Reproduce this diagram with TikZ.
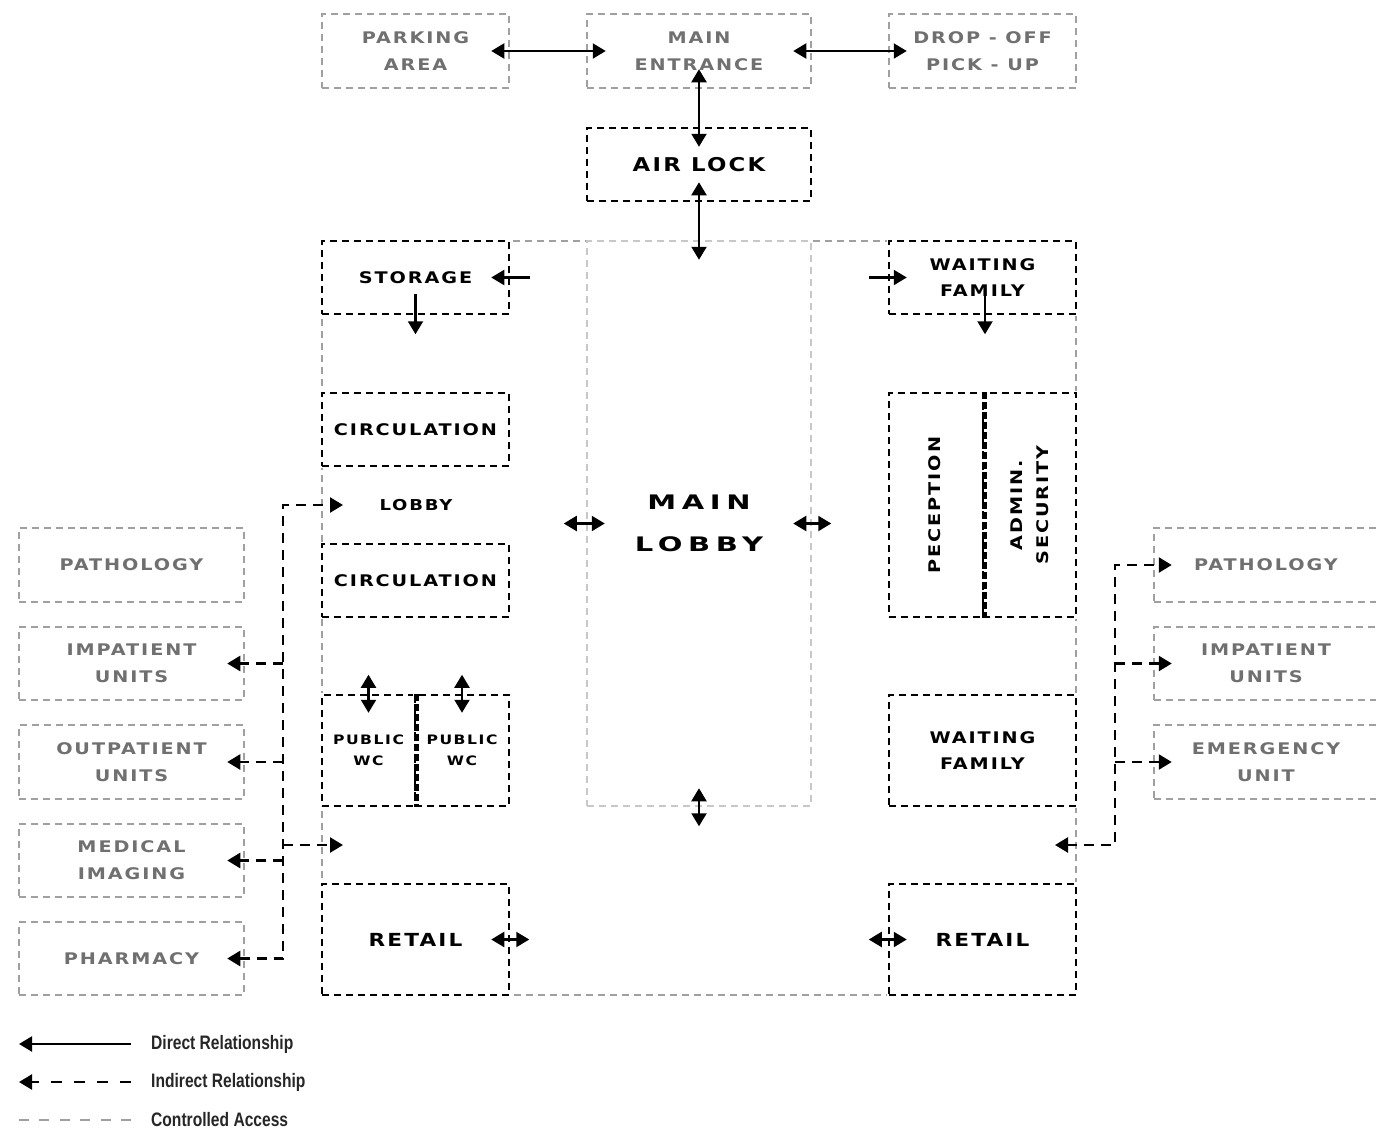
\documentclass[tikz,border=0pt]{standalone}
\usepackage{fontspec}
\usetikzlibrary{arrows.meta,calc}
% Wide, tracked capitals for the room labels; narrow bold for the key
\newfontfamily\lblfont[FakeStretch=1.2,LetterSpace=12]{DejaVu Sans Bold}
\newfontfamily\bigfont[FakeStretch=1.45,LetterSpace=28]{DejaVu Sans Bold}
\newfontfamily\legfont[FakeStretch=0.8]{Liberation Sans}
\definecolor{boxgray}{RGB}{160,160,160}
\definecolor{txtgray}{RGB}{112,112,112}
\definecolor{lobgray}{RGB}{200,200,200}
\tikzset{
  lbl/.style={font=\lblfont\fontsize{16}{27}\selectfont, align=center, inner sep=0pt},
  gbox/.style={lbl, draw=boxgray, line width=2.5pt, dash pattern=on 7pt off 5pt, text=txtgray},
  cbox/.style={lbl, preaction={draw=white, solid, line width=3.2pt},
               draw=black, line width=2.5pt, dash pattern=on 7pt off 5pt, text=black},
  abox/.style={draw=boxgray, line width=2.5pt, dash pattern=on 7pt off 5pt, inner sep=0pt},
  lbox/.style={draw=lobgray, line width=2.5pt, dash pattern=on 7pt off 5pt, inner sep=0pt,
               font=\bigfont\fontsize{20}{42}\selectfont, align=center},
  divider/.style={line width=4.5pt, dash pattern=on 7pt off 3pt},
  dir/.style={line width=2.2pt, arrows={-Triangle[length=13pt,width=15pt]}},
  dirtwo/.style={line width=2.2pt, arrows={Triangle[length=13pt,width=15pt]-Triangle[length=13pt,width=15pt]}},
  ind/.style={line width=2.5pt, dash pattern=on 10pt off 7pt, arrows={-Triangle[length=13pt,width=15pt]}},
  indtwo/.style={line width=2.5pt, dash pattern=on 10pt off 7pt,
                 arrows={Triangle[length=13pt,width=15pt]-Triangle[length=13pt,width=15pt]}},
  legtext/.style={font=\legfont\bfseries\fontsize{19.5}{22}\selectfont, text=black!85, inner sep=0pt, anchor=west},
}
\begin{document}
\begin{tikzpicture}[x=1pt, y=-1pt]
\useasboundingbox (0,0) rectangle (1376,1130);
\clip (0,0) rectangle (1376,1130);

% approach and entry
\node[gbox, minimum width=187pt, minimum height=74pt] (park) at (415.5,51) {PARKING\\AREA};
\node[gbox, minimum width=224pt, minimum height=74pt] (ment) at (699,51) {MAIN\\ENTRANCE};
\node[gbox, minimum width=187pt, minimum height=74pt] (drop) at (982.5,51) {DROP - OFF\\PICK - UP};
\node[cbox, minimum width=224pt, minimum height=73pt, font=\lblfont\fontsize{19}{24}\selectfont] (air) at (699,164.5) {AIR LOCK};

% controlled hall and central lobby
\node[abox, minimum width=754pt, minimum height=754pt] (hall) at (699,618) {};
\node[lbox, minimum width=224pt, minimum height=565pt] (lob) at (699,523.5) {MAIN\\LOBBY};

% west side rooms
\node[cbox, minimum width=187pt, minimum height=73pt] (stor) at (415.5,277.5) {STORAGE};
\node[cbox, minimum width=187pt, minimum height=73pt] (circa) at (415.5,429.5) {CIRCULATION};
\node[lbl, font=\lblfont\fontsize{15}{20}\selectfont] (sublob) at (416,505) {LOBBY};
\node[cbox, minimum width=187pt, minimum height=73pt] (circb) at (415.5,580.5) {CIRCULATION};
\node[cbox, minimum width=93pt, minimum height=111pt, font=\lblfont\fontsize{13}{21}\selectfont] (wca) at (368.5,750.5) {PUBLIC\\WC};
\node[cbox, minimum width=94pt, minimum height=111pt, font=\lblfont\fontsize{13}{21}\selectfont] (wcb) at (462,750.5) {PUBLIC\\WC};
\draw[divider] (wca.north east) -- (wca.south east);
\node[cbox, minimum width=187pt, minimum height=111pt, font=\lblfont\fontsize{18}{24}\selectfont] (retl) at (415.5,939.5) {RETAIL};

% east side rooms
\node[cbox, minimum width=187pt, minimum height=73pt, font=\lblfont\fontsize{16}{26}\selectfont] (waita) at (982.5,277.5) {WAITING\\FAMILY};
\node[cbox, minimum width=94pt, minimum height=224pt] (rec) at (936,505) {};
\node[cbox, minimum width=93pt, minimum height=224pt] (adm) at (1029.5,505) {};
\draw[divider] (rec.north east) -- (rec.south east);
\node[lbl, rotate=90] (rectxt) at (935,505) {PECEPTION};
\node[lbl, rotate=90, font=\lblfont\fontsize{16}{26}\selectfont] (admtxt) at (1030,505) {ADMIN.\\SECURITY};
\node[cbox, minimum width=187pt, minimum height=111pt, font=\lblfont\fontsize{16}{26}\selectfont] (waitb) at (982.5,750.5) {WAITING\\FAMILY};
\node[cbox, minimum width=187pt, minimum height=111pt, font=\lblfont\fontsize{18}{24}\selectfont] (retr) at (982.5,939.5) {RETAIL};

% departments to the west
\node[gbox, minimum width=225pt, minimum height=74pt] (lpath) at (131.5,565) {PATHOLOGY};
\node[gbox, minimum width=225pt, minimum height=73pt] (limp) at (131.5,663.5) {IMPATIENT\\UNITS};
\node[gbox, minimum width=225pt, minimum height=74pt] (lout) at (131.5,762) {OUTPATIENT\\UNITS};
\node[gbox, minimum width=225pt, minimum height=73pt] (lmed) at (131.5,860.5) {MEDICAL\\IMAGING};
\node[gbox, minimum width=225pt, minimum height=73pt] (lphar) at (131.5,958.5) {PHARMACY};

% departments to the east
\node[gbox, minimum width=224pt, minimum height=74pt] (rpath) at (1266,565) {PATHOLOGY};
\node[gbox, minimum width=224pt, minimum height=73pt] (rimp) at (1266,663.5) {IMPATIENT\\UNITS};
\node[gbox, minimum width=224pt, minimum height=74pt] (remg) at (1266,762) {EMERGENCY\\UNIT};

% direct relationships
\draw[dirtwo] ([xshift=-19pt]park.east) -- ([xshift=20pt]ment.west);
\draw[dirtwo] ([xshift=-19pt]ment.east) -- ([xshift=19pt]drop.west);
\draw[dirtwo] ([yshift=20pt]ment.south) -- ([yshift=-20pt]air.north);
\draw[dirtwo] ([yshift=20pt]air.south) -- ([yshift=-20pt]lob.north);
\draw[dir] ([xshift=20pt]stor.east) -- ([xshift=-19pt]stor.east);
\draw[dir] ([yshift=21pt]stor.south) -- ([yshift=-19pt]stor.south);
\draw[dir] ([xshift=-19pt]waita.west) -- ([xshift=19pt]waita.west);
\draw[dir] ([shift={(2.5pt,21pt)}]waita.south) -- ([shift={(2.5pt,-19pt)}]waita.south);
\draw[dirtwo] ([xshift=-22pt]lob.west) -- ([xshift=19pt]lob.west);
\draw[dirtwo] ([xshift=-19pt]lob.east) -- ([xshift=19pt]lob.east);
\draw[dirtwo] ([yshift=19pt]lob.south) -- ([yshift=-19pt]lob.south);
\draw[dirtwo] ([yshift=19pt]wca.north) -- ([yshift=-19pt]wca.north);
\draw[dirtwo] ([yshift=19pt]wcb.north) -- ([yshift=-19pt]wcb.north);
\draw[dirtwo] ([xshift=-19pt]retl.east) -- ([xshift=19pt]retl.east);
\draw[dirtwo] ([xshift=-19pt]retr.west) -- ([xshift=19pt]retr.west);

% indirect relationships, west
\coordinate (ltrunk) at (283,0);
\coordinate (lobin) at (343,505);
\coordinate (hallin) at (343,845);
\draw[indtwo] ([xshift=-18pt]lphar.east) -| (ltrunk |- lobin) -- (lobin);
\draw[ind] (ltrunk |- limp.east) -- ([xshift=-18pt]limp.east);
\draw[ind] (ltrunk |- lout.east) -- ([xshift=-18pt]lout.east);
\draw[ind] (ltrunk |- lmed.east) -- ([xshift=-18pt]lmed.east);
\draw[ind] (ltrunk |- hallin) -- (hallin);

% indirect relationships, east
\coordinate (rtrunk) at (1115,0);
\coordinate (hallr) at (1055,845);
\draw[indtwo] (hallr) -| (rtrunk |- rpath.west) -- ([xshift=19pt]rpath.west);
\draw[ind] (rtrunk |- rimp.west) -- ([xshift=19pt]rimp.west);
\draw[ind] (rtrunk |- remg.west) -- ([xshift=19pt]remg.west);

% key
\node[legtext] (lega) at (151,1044) {Direct Relationship};
\node[legtext] (legb) at (151,1082) {Indirect Relationship};
\node[legtext] (legc) at (151,1120) {Controlled Access};
\draw[dir] ([xshift=-20pt]lega.west) -- ++(-112,0);
\draw[ind, dash pattern=on 11pt off 12pt] ([xshift=-20pt]legb.west) -- ++(-112,0);
\draw[abox, dash pattern=on 10pt off 10.4pt] ([xshift=-20pt]legc.west) -- ++(-112,0);
\end{tikzpicture}
\end{document}
